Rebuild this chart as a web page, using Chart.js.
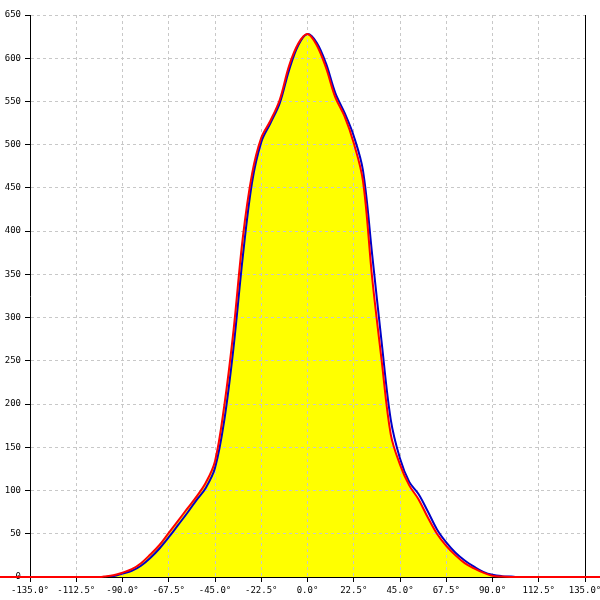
<!DOCTYPE html>
<html>
<head>
<meta charset="utf-8">
<script src="https://cdn.jsdelivr.net/npm/chart.js@4.4.0/dist/chart.umd.min.js"></script>
<style>
  body { margin: 0; background: #fff; }
  canvas { background: #fff; }
</style>
</head>
<body>
<canvas id="chart" width="600" height="600"></canvas>
<script>
// angles in degrees, shared by both curves
const angles = [-99, -94.5, -90, -85.5, -81, -76.5, -72, -67.5, -63, -58.5, -54, -49.5, -45, -40.5, -36, -31.5,
  -27, -22.5, -18, -13.5, -9, -4.5, 0, 4.5, 9, 13.5, 18, 22.5, 27, 31.5, 36, 40.5, 45, 49.5, 54, 58.5, 63,
  67.5, 72, 76.5, 81, 85.5, 90, 94.5, 99];

const redValues = [0.5, 2, 5, 9, 16, 26, 37, 51, 65, 79, 93, 109, 134, 198, 285, 392,
  466, 508, 528, 552, 591, 617, 628, 615, 589, 555, 533, 502, 458, 345, 252, 165, 130, 106, 90, 69, 50,
  36, 25, 16, 10, 5, 1.5, 0.5, 0];

const blueValues = [0, 1, 4, 7, 13, 22, 33, 46, 60, 74, 89, 103, 126, 181, 265, 370,
  456, 503, 525, 548, 586, 615, 628, 618, 594, 560, 537, 510, 470, 372, 273, 182, 137, 110, 96, 76, 55,
  40, 28, 19, 12, 6, 2.5, 1, 0.5];

// flat zero tails
const redTailLeft = [-180, -101];
const redTailRight = [101, 180];
const blueTailLeft = [-101];
const blueTailRight = [101];

const xTicks = [-135, -112.5, -90, -67.5, -45, -22.5, 0, 22.5, 45, 67.5, 90, 112.5, 135];
const yTicks = [0, 50, 100, 150, 200, 250, 300, 350, 400, 450, 500, 550, 600, 650];

function pts(tailL, values, tailR) {
  const out = tailL.map(a => ({ x: a, y: 0 }));
  angles.forEach((a, i) => out.push({ x: a, y: values[i] }));
  tailR.forEach(a => out.push({ x: a, y: 0 }));
  return out;
}

const tickFont = { family: 'DejaVu Sans Mono', size: 9 };

new Chart(document.getElementById('chart'), {
  type: 'line',
  data: {
    datasets: [
      {
        label: 'red',
        data: pts(redTailLeft, redValues, redTailRight),
        borderColor: '#ff0000',
        borderWidth: 2,
        backgroundColor: '#ffff00',
        fill: 'origin',
        pointRadius: 0,
        tension: 0.35,
        clip: false
      },
      {
        label: 'blue',
        data: pts(blueTailLeft, blueValues, blueTailRight),
        borderColor: '#0000c8',
        borderWidth: 2,
        fill: false,
        pointRadius: 0,
        tension: 0.35
      }
    ]
  },
  options: {
    responsive: false,
    animation: false,
    layout: { padding: { top: 15, right: 0, left: 0, bottom: 0 } },
    plugins: {
      legend: { display: false },
      tooltip: { enabled: false },
      filler: { drawTime: 'beforeDraw' }
    },
    scales: {
      x: {
        type: 'linear',
        min: -135,
        max: 135,
        afterBuildTicks: s => { s.ticks = xTicks.map(v => ({ value: v })); },
        afterFit: s => { s.height = 23; s.paddingLeft = 0; s.paddingRight = 0; },
        ticks: {
          color: '#000',
          font: tickFont,
          padding: 3,
          maxRotation: 0,
          autoSkip: false,
          callback: v => v.toFixed(1) + '\u00b0'
        },
        grid: { color: '#c8c8c8', tickColor: '#000', tickLength: 5, tickBorderDash: [] },
        border: { color: '#000', dash: [3, 3] }
      },
      y: {
        min: 0,
        max: 650,
        afterBuildTicks: s => { s.ticks = yTicks.map(v => ({ value: v })); },
        afterFit: s => { s.width = 30; s.paddingTop = 0; s.paddingBottom = 0; },
        ticks: { color: '#000', font: tickFont, padding: 4 },
        grid: { color: '#c8c8c8', tickColor: '#000', tickLength: 5, tickBorderDash: [] },
        border: { color: '#000', dash: [3, 3] }
      },
      y2: {
        position: 'right',
        min: 0,
        max: 650,
        afterFit: s => { s.width = 15; s.paddingTop = 0; s.paddingBottom = 0; },
        ticks: { display: false },
        grid: { drawOnChartArea: false, drawTicks: false },
        border: { color: '#000' }
      }
    }
  }
});
</script>
</body>
</html>
